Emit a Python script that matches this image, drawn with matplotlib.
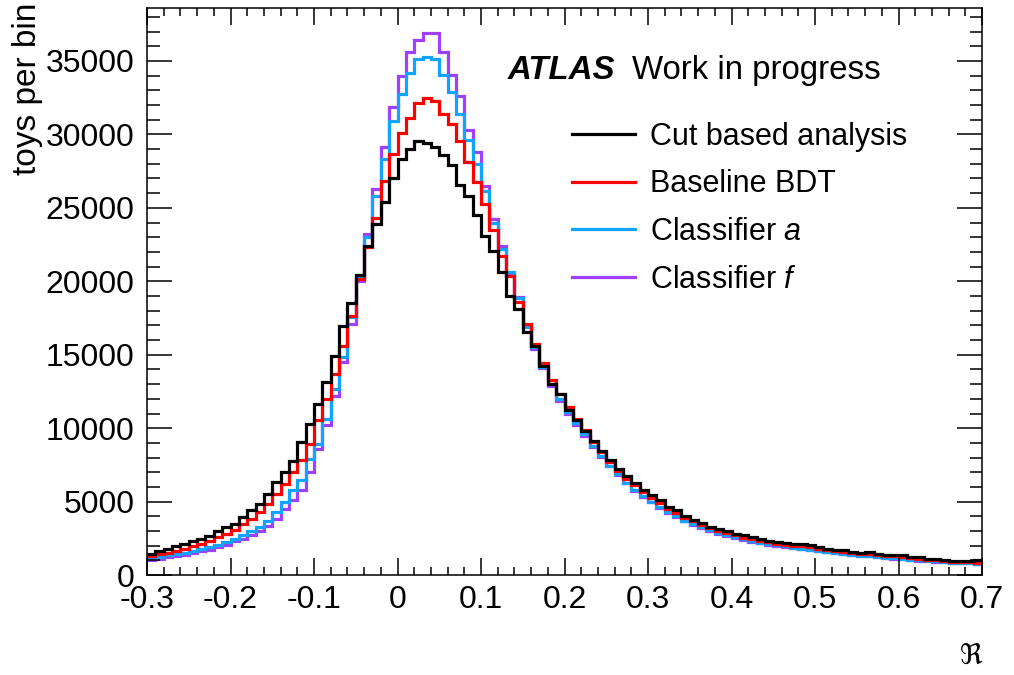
import numpy as np
import matplotlib
matplotlib.use('Agg')
import matplotlib.pyplot as plt
from matplotlib.lines import Line2D

plt.rcParams['font.family'] = ['Liberation Sans', 'DejaVu Sans']
plt.rcParams['mathtext.fontset'] = 'custom'
plt.rcParams['mathtext.rm'] = 'Liberation Sans'
plt.rcParams['mathtext.it'] = 'Liberation Sans:italic'

# binning of the toys: 100 bins from -0.3 to 0.7
x_min, x_max, n_bins = -0.3, 0.7, 100

# toys per bin
cut_based = [
    1470, 1650, 1810, 1970, 2150, 2330, 2490, 2650, 2990, 3280,
    3510, 3960, 4460, 4850, 5550, 6340, 7020, 7750, 9060, 10310,
    11670, 13140, 14900, 16940, 18530, 20460, 22430, 23900, 25400, 27000,
    28310, 29040, 29560, 29400, 29150, 28600, 27900, 26550, 25820, 24500,
    23110, 22040, 20660, 19030, 18120, 16540, 15590, 14230, 13030, 12300,
    11210, 10530, 9810, 9130, 8450, 7850, 7250, 6730, 6270, 5820,
    5440, 5100, 4640, 4460, 4010, 3780, 3560, 3280, 3170, 2990,
    2830, 2700, 2600, 2450, 2350, 2280, 2200, 2150, 2100, 2040,
    1900, 1800, 1720, 1700, 1560, 1520, 1600, 1420, 1380, 1360,
    1350, 1230, 1200, 1100, 1080, 1050, 960, 950, 940, 1000,
]
baseline_bdt = [
    1300, 1420, 1520, 1650, 1800, 1960, 2120, 2300, 2560, 2780,
    3060, 3470, 3850, 4310, 4850, 5500, 6200, 7000, 7820, 8950,
    10530, 12010, 13710, 15590, 17670, 20160, 22360, 24300, 26840, 28660,
    30130, 31150, 32170, 32510, 32280, 31380, 30740, 29560, 28090, 26730,
    25260, 23500, 21750, 20390, 18570, 17100, 15750, 14430, 13250, 12350,
    11440, 10650, 9850, 9060, 8380, 7700, 7100, 6550, 6100, 5650,
    5250, 4900, 4500, 4250, 3880, 3650, 3420, 3180, 3020, 2850,
    2700, 2550, 2450, 2320, 2220, 2150, 2070, 2000, 1950, 1880,
    1780, 1700, 1620, 1580, 1480, 1440, 1450, 1350, 1300, 1280,
    1250, 1150, 1120, 1050, 1000, 980, 900, 880, 860, 850,
]
classifier_a = [
    1150, 1250, 1340, 1440, 1520, 1630, 1750, 1880, 2040, 2260,
    2490, 2720, 2990, 3280, 3700, 4300, 5000, 5780, 6500, 7930,
    8950, 10650, 12700, 14840, 17560, 20270, 23000, 25820, 28310, 30920,
    32740, 34210, 35120, 35300, 35120, 34030, 32910, 31380, 29610, 27980,
    26160, 23950, 22200, 20610, 18870, 16920, 15520, 14160, 13000, 12000,
    11100, 10350, 9600, 8800, 8100, 7450, 6850, 6300, 5800, 5400,
    5000, 4650, 4300, 4050, 3700, 3450, 3250, 3050, 2880, 2720,
    2580, 2430, 2320, 2200, 2100, 2020, 1950, 1870, 1800, 1740,
    1650, 1580, 1500, 1450, 1380, 1330, 1300, 1230, 1180, 1150,
    1100, 1050, 1010, 960, 930, 900, 850, 820, 800, 780,
]
classifier_f = [
    1000, 1100, 1200, 1300, 1400, 1490, 1610, 1720, 1880, 2060,
    2290, 2470, 2720, 2970, 3350, 3850, 4500, 5100, 5800, 7020,
    8610, 10190, 12200, 14500, 17100, 20050, 23220, 26280, 29110, 31900,
    33980, 35610, 36430, 36880, 36880, 35610, 34030, 32620, 30310, 28770,
    26500, 24240, 22430, 20500, 18940, 16950, 15400, 14100, 12850, 11850,
    11000, 10200, 9500, 8700, 8050, 7400, 6800, 6250, 5750, 5350,
    4950, 4600, 4250, 3950, 3650, 3400, 3200, 3000, 2830, 2680,
    2530, 2400, 2280, 2170, 2070, 1990, 1920, 1840, 1770, 1710,
    1630, 1560, 1480, 1430, 1360, 1310, 1280, 1210, 1170, 1130,
    1080, 1030, 990, 950, 910, 880, 840, 810, 790, 770,
]

labels = ['Cut based analysis', 'Baseline BDT', 'Classifier $a$', 'Classifier $f$']
colors = ['black', '#ff0000', '#10a4ff', '#a040ff']
series = [cut_based, baseline_bdt, classifier_a, classifier_f]

edges = np.linspace(x_min, x_max, n_bins + 1)

fig = plt.figure(figsize=(10.14, 6.75), dpi=100)
ax = fig.add_axes([0.145, 0.148, 0.8235, 0.84])

# draw purple first so black ends up on top
for vals, col in reversed(list(zip(series, colors))):
    ax.stairs(vals, edges, color=col, linewidth=2.3, baseline=None)

ax.set_xlim(x_min, x_max)
ax.set_ylim(0, 38600)

ax.xaxis.set_major_locator(matplotlib.ticker.MultipleLocator(0.1))
ax.xaxis.set_minor_locator(matplotlib.ticker.MultipleLocator(0.02))
ax.yaxis.set_major_locator(matplotlib.ticker.MultipleLocator(5000))
ax.yaxis.set_minor_locator(matplotlib.ticker.MultipleLocator(1000))
ax.xaxis.set_major_formatter(matplotlib.ticker.FuncFormatter(lambda v, p: f'{v:g}'))

ax.tick_params(axis='both', which='both', direction='in', top=True, right=True,
               labelsize=23, width=1.1, color='black')
ax.tick_params(axis='x', which='major', length=12, pad=7)
ax.tick_params(axis='x', which='minor', length=6)
ax.tick_params(axis='y', which='major', length=18, pad=9)
ax.tick_params(axis='y', which='minor', length=9)
for sp in ax.spines.values():
    sp.set_linewidth(1.1)

# ROOT style: y title pushed to the top end of the axis
ax.set_ylabel('toys per bin', fontsize=24, loc='top')
ax.yaxis.set_label_coords(-0.1245, 1.01)
ax.set_xlabel('ℜ', fontsize=20, loc='right', labelpad=20,
              fontfamily=['DejaVu Sans'])

ax.text(0.432, 0.875, 'ATLAS', transform=ax.transAxes, fontsize=23.8,
        fontweight='bold', fontstyle='italic', ha='left', va='baseline')
ax.text(0.581, 0.875, 'Work in progress', transform=ax.transAxes, fontsize=23.8,
        ha='left', va='baseline')

handles = [Line2D([], [], color=c, linewidth=2.3) for c in colors]
ax.legend(handles, labels, loc='upper left', bbox_to_anchor=(0.509, 0.80),
          frameon=False, fontsize=22, handlelength=2.05, handletextpad=0.51,
          labelspacing=0.58, borderaxespad=0, borderpad=0)

fig.savefig('out.png', dpi=100)
